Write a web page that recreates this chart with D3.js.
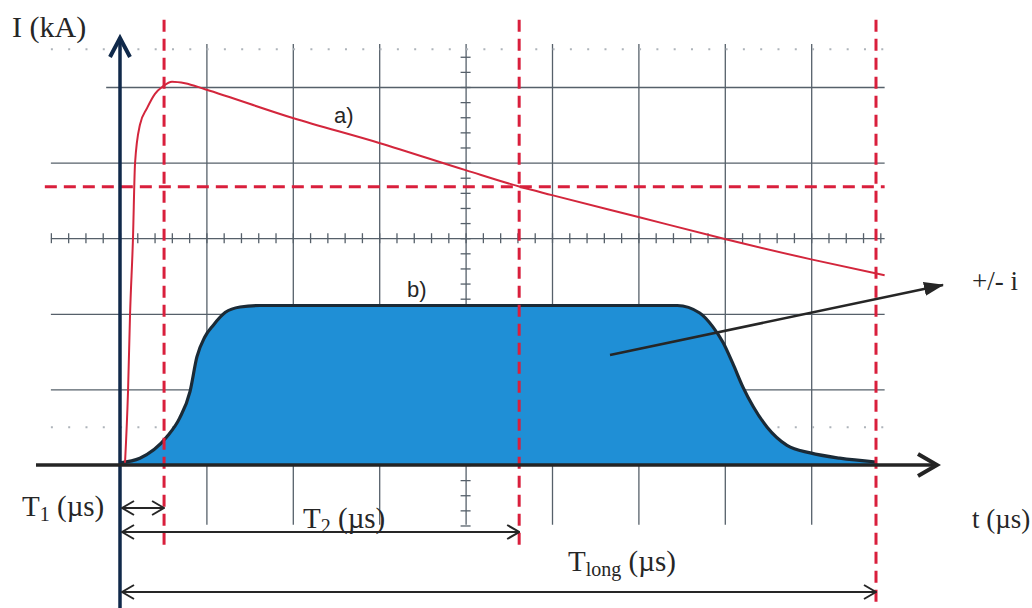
<!DOCTYPE html>
<html lang="en">
<head>
<meta charset="UTF-8">
<title>Impulse current</title>
<script src="https://cdn.jsdelivr.net/npm/d3@7"></script>
<style>
  html, body { margin: 0; background: #fff; overflow: hidden; }
  svg { display: block; }
  text { font-family: "Liberation Serif", "Times New Roman", serif; fill: #262626; }
  .lbl { font-family: "Liberation Sans", Arial, sans-serif; }
  .grid line { stroke: #56606a; stroke-width: 1.3; }
  .minor line { stroke: #56606a; stroke-width: 1.3; }
</style>
</head>
<body>
<svg width="1032" height="608"></svg>
<script>
// t and i both in grid divisions (the scope grid has no numbers)
const curveA_t = [0.058, 0.093, 0.116, 0.150, 0.174, 0.231, 0.313, 0.405, 0.498, 0.602, 0.752, 0.984, 2.0, 3.0, 4.0, 4.63, 5.0, 6.0, 7.0, 8.0, 8.85]
const curveA_i = [0.03, 0.98, 1.98, 2.99, 3.99, 4.50, 4.72, 4.91, 5.01, 5.07, 5.05, 4.97, 4.59, 4.26, 3.90, 3.68, 3.57, 3.28, 2.99, 2.72, 2.51]

const curveB_t = [0, 0.23, 0.54, 0.69, 0.81, 0.89, 0.98, 1.08, 1.22, 1.39, 1.62, 6.45, 6.71, 6.86, 6.98, 7.09, 7.21, 7.33, 7.49, 7.72, 7.99, 8.33, 8.75]
const curveB_i = [0.03, 0.09, 0.37, 0.62, 0.97, 1.43, 1.69, 1.85, 2.02, 2.09, 2.11, 2.11, 2.01, 1.83, 1.62, 1.35, 1.03, 0.77, 0.50, 0.26, 0.16, 0.09, 0.04]

const gridT = [1, 2, 3, 4, 5, 6, 7, 8]
const gridI = [1, 2, 3, 4]
const topGridI = 5
const dottedI = [0.5, 5.5]
const markT = { T1: 0.51, T2: 4.62, Tlong: 8.75 }
const markLevel = 3.68

const svg = d3.select('svg')

const x = d3.scaleLinear().domain([0, 10]).range([120, 984])
const y = d3.scaleLinear().domain([0, 6]).range([465, 11.4])

const tMin = -0.8, tMax = 8.85, iMin = -0.79, iMax = 5.57

// grid
svg.append('g').attr('class', 'grid')
   .attr('transform', `translate(0, ${y(iMax)})`)
   .call(d3.axisBottom(x).tickValues(gridT).tickSize(y(iMin) - y(iMax)).tickFormat(''))
   .call(g => g.select('.domain').remove())

svg.append('g').attr('class', 'grid')
   .attr('transform', `translate(${x(tMin)}, 0)`)
   .call(d3.axisRight(y).tickValues(gridI).tickSize(x(tMax) - x(tMin)).tickFormat(''))
   .call(g => g.select('.domain').remove())

svg.append('g').attr('class', 'grid')
   .attr('transform', `translate(${x(-0.16)}, 0)`)
   .call(d3.axisRight(y).tickValues([topGridI]).tickSize(x(tMax) - x(-0.16)).tickFormat(''))
   .call(g => g.select('.domain').remove())

// dotted half-division lines
svg.append('g').selectAll('line')
   .data(dottedI).enter().append('line')
   .attr('x1', x(tMin)).attr('x2', x(tMax))
   .attr('y1', d => y(d)).attr('y2', d => y(d))
   .attr('stroke', '#aeb4ba').attr('stroke-width', 2)
   .attr('stroke-dasharray', '2,15.3')

// small ticks on the centre lines
svg.append('g').attr('class', 'minor')
   .attr('transform', `translate(${x(4) - 5}, 0)`)
   .call(d3.axisRight(y).tickValues(d3.range(-0.8, 5.6, 0.2)).tickSize(10).tickFormat(''))
   .call(g => g.select('.domain').remove())

svg.append('g').attr('class', 'minor')
   .attr('transform', `translate(0, ${y(3) - 5})`)
   .call(d3.axisBottom(x).tickValues(d3.range(-0.8, 8.9, 0.2)).tickSize(10).tickFormat(''))
   .call(g => g.select('.domain').remove())

// curve b) filled
const dataB = curveB_t.map((t, k) => [t, curveB_i[k]])
svg.append('path')
   .datum(dataB)
   .attr('fill', '#1f8fd6')
   .attr('d', d3.area().x(d => x(d[0])).y0(y(0)).y1(d => y(d[1])).curve(d3.curveMonotoneX))
svg.append('path')
   .datum(dataB)
   .attr('fill', 'none').attr('stroke', '#1b2a36').attr('stroke-width', 3.2)
   .attr('d', d3.line().x(d => x(d[0])).y(d => y(d[1])).curve(d3.curveMonotoneX))

// red dashed markers
const red = '#d91f3c'
const dash = svg.append('g').attr('stroke', red).attr('stroke-width', 3).attr('stroke-dasharray', '12,7')
dash.append('line').attr('x1', x(markT.T1)).attr('x2', x(markT.T1)).attr('y1', y(5.89)).attr('y2', y(-1.1))
dash.append('line').attr('x1', x(markT.T2)).attr('x2', x(markT.T2)).attr('y1', y(5.89)).attr('y2', y(-1.06))
dash.append('line').attr('x1', x(markT.Tlong)).attr('x2', x(markT.Tlong)).attr('y1', y(5.89)).attr('y2', y(-1.9))
dash.append('line').attr('x1', x(-0.87)).attr('x2', x(tMax)).attr('y1', y(markLevel)).attr('y2', y(markLevel))

// curve a)
svg.append('path')
   .datum(curveA_t.map((t, k) => [t, curveA_i[k]]))
   .attr('fill', 'none').attr('stroke', '#d3263c').attr('stroke-width', 2)
   .attr('d', d3.line().x(d => x(d[0])).y(d => y(d[1])).curve(d3.curveMonotoneX))

// axes
svg.append('line')
   .attr('x1', x(0)).attr('x2', x(0)).attr('y1', 40).attr('y2', 608)
   .attr('stroke', '#10294a').attr('stroke-width', 3.5)
svg.append('path')
   .attr('d', `M${x(0) - 10},${57} L${x(0)},${38} L${x(0) + 10},${57}`)
   .attr('fill', 'none').attr('stroke', '#10294a').attr('stroke-width', 4).attr('stroke-linejoin', 'miter')

svg.append('line')
   .attr('x1', 36).attr('x2', 934).attr('y1', y(0)).attr('y2', y(0))
   .attr('stroke', '#242424').attr('stroke-width', 3.5)
svg.append('path')
   .attr('d', `M918,${y(0) - 11} L937,${y(0)} L918,${y(0) + 11}`)
   .attr('fill', 'none').attr('stroke', '#242424').attr('stroke-width', 4)

// markers for dimension arrows
const defs = svg.append('defs')
defs.append('marker').attr('id', 'open')
   .attr('viewBox', '0 0 14 16').attr('refX', 13).attr('refY', 8)
   .attr('markerWidth', 14).attr('markerHeight', 16).attr('markerUnits', 'userSpaceOnUse')
   .attr('orient', 'auto-start-reverse')
   .append('path').attr('d', 'M1,1 L13,8 L1,15').attr('fill', 'none').attr('stroke', '#262626').attr('stroke-width', 2)
defs.append('marker').attr('id', 'solid')
   .attr('viewBox', '0 0 20 14').attr('refX', 19).attr('refY', 7)
   .attr('markerWidth', 20).attr('markerHeight', 14).attr('markerUnits', 'userSpaceOnUse')
   .attr('orient', 'auto')
   .append('path').attr('d', 'M0,0 L20,7 L0,14 Z').attr('fill', '#262626')

const dims = [
   { t: markT.T1, yy: 508 },
   { t: markT.T2, yy: 532 },
   { t: markT.Tlong, yy: 592 }
]
svg.append('g').selectAll('line')
   .data(dims).enter().append('line')
   .attr('x1', x(0) + 2).attr('x2', d => x(d.t))
   .attr('y1', d => d.yy).attr('y2', d => d.yy)
   .attr('stroke', '#262626').attr('stroke-width', 2)
   .attr('marker-start', 'url(#open)').attr('marker-end', 'url(#open)')

// +/- i pointer
svg.append('line')
   .attr('x1', 610).attr('y1', 355).attr('x2', 943).attr('y2', 285)
   .attr('stroke', '#262626').attr('stroke-width', 2.5)
   .attr('marker-end', 'url(#solid)')

// texts
svg.append('text').attr('x', 12).attr('y', 37).attr('font-size', 30).text('I (kA)')
svg.append('text').attr('x', 972).attr('y', 528).attr('font-size', 27).text('t (µs)')
svg.append('text').attr('x', 972).attr('y', 290).attr('font-size', 27).text('+/- i')
svg.append('text').attr('class', 'lbl').attr('x', 334).attr('y', 123).attr('font-size', 22).text('a)')
svg.append('text').attr('class', 'lbl').attr('x', 407).attr('y', 297).attr('font-size', 22).text('b)')

function subLabel(px, py, main, sub) {
   const t = svg.append('text').attr('x', px).attr('y', py).attr('font-size', 29)
   t.append('tspan').text(main)
   t.append('tspan').attr('font-size', 20).attr('dy', 5).text(sub)
   t.append('tspan').attr('dy', -5).text(' (µs)')
}
subLabel(22, 516, 'T', '1')
subLabel(303, 528, 'T', '2')
subLabel(568, 571, 'T', 'long')
</script>
</body>
</html>
